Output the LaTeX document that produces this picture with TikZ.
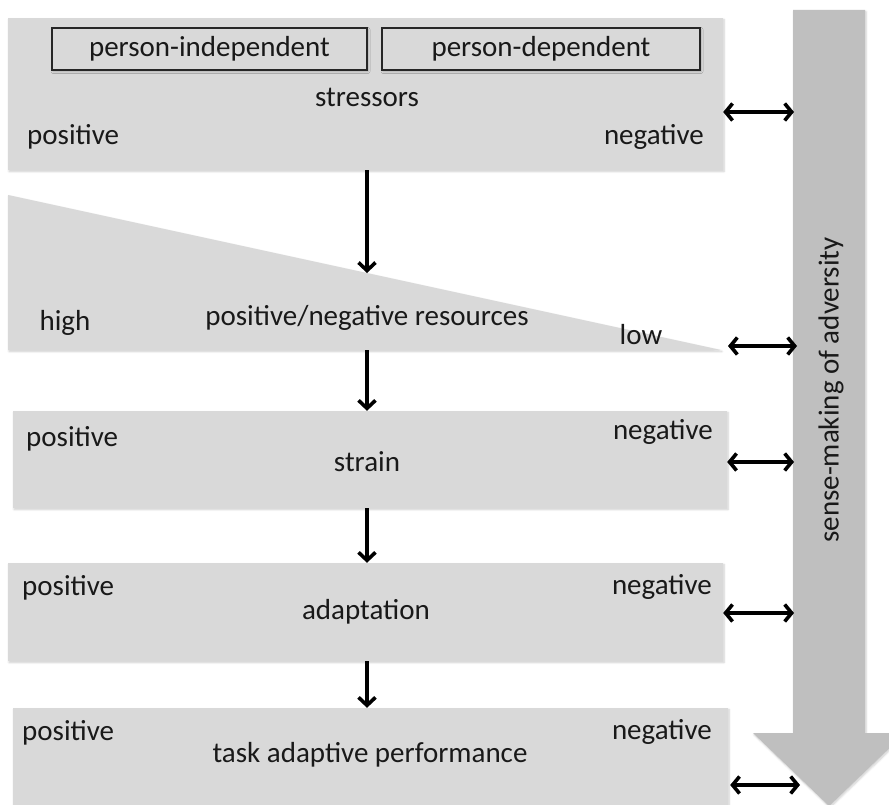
\documentclass[tikz,border=0pt]{standalone}
\usepackage{fontspec}
\setmainfont{Carlito}
\usetikzlibrary{arrows.meta,shadows.blur,calc}
\definecolor{boxgray}{HTML}{D9D9D9}
\definecolor{bargray}{HTML}{BFBFBF}
\tikzset{
  soft/.style={blur shadow={shadow xshift=1pt,shadow yshift=-1.5pt,shadow blur steps=6,shadow blur radius=2pt,shadow opacity=20}},
  panel/.style={rectangle,fill=boxgray,draw=none,inner sep=0pt,soft},
  tag/.style={rectangle,fill=boxgray,draw=black!85,line width=1.2pt,inner sep=0pt,soft},
  lbl/.style={inner sep=0pt,text=black!90,font=\fontsize{29}{34}\selectfont},
  flow/.style={line width=3.6pt,-{Straight Barb[length=8pt,width=17pt]}},
  link/.style={line width=3.6pt,{Straight Barb[length=7pt,width=17pt]}-{Straight Barb[length=7pt,width=17pt]}},
}
\begin{document}
\begin{tikzpicture}[x=1pt,y=-1pt]
\useasboundingbox (0,0) rectangle (889,805);

% sense-making arrow on the right
\fill[bargray,soft] (793,10) -- (865,10) -- (865,733) -- (905,733) -- (829,806) -- (753,733) -- (793,733) -- cycle;
\node[lbl,rotate=90] (sense) at (831,390) {sense-making of adversity};

% stressors
\node[panel,minimum width=715pt,minimum height=152pt] (stress) at (365.5,94) {};
\node[tag,minimum width=315pt,minimum height=42pt] (pind) at (209.5,49) {};
\node[lbl] at (pind) {person-independent};
\node[tag,minimum width=318pt,minimum height=42pt] (pdep) at (541,49) {};
\node[lbl] at (pdep) {person-dependent};
\node[lbl] (stresslbl) at (367,97) {stressors};
\node[lbl,anchor=west] (spos) at (27,137) {positive};
\node[lbl,anchor=east] (sneg) at (704,137) {negative};

% resources wedge
\fill[boxgray,soft] (8,195) -- (8,350) -- (721,350) -- cycle;
\coordinate (restop) at (367,273);
\coordinate (resbot) at (367,350);
\node[lbl] (rhigh) at (65,323) {high};
\node[lbl] (rlbl) at (367,318) {positive/negative resources};
\node[lbl] (rlow) at (641,335) {low};

% strain
\node[panel,minimum width=714pt,minimum height=97pt] (strain) at (370,459.5) {};
\node[lbl,anchor=west] (stpos) at (26,439) {positive};
\node[lbl] (stlbl) at (367,462) {strain};
\node[lbl,anchor=east] (stneg) at (713,432) {negative};

% adaptation
\node[panel,minimum width=715pt,minimum height=98pt] (adapt) at (365.5,612) {};
\node[lbl,anchor=west] (apos) at (22,588) {positive};
\node[lbl] (albl) at (366,612) {adaptation};
\node[lbl,anchor=east] (aneg) at (712,587) {negative};

% task adaptive performance
\node[panel,minimum width=715pt,minimum height=110pt] (perf) at (370.5,763) {};
\node[lbl,anchor=west] (ppos) at (22,733) {positive};
\node[lbl] (plbl) at (370,755) {task adaptive performance};
\node[lbl,anchor=east] (pneg) at (712,732) {negative};

% vertical flow
\draw[flow] (stress.south -| restop) -- (restop);
\draw[flow] (resbot) -- (strain.north -| resbot);
\draw[flow] (strain.south -| resbot) -- (adapt.north -| resbot);
\draw[flow] (adapt.south -| resbot) -- (perf.north -| resbot);

% links to the sense-making arrow
\coordinate (b1) at (794,112);
\coordinate (b2) at (797,346);
\coordinate (b3) at (794,462);
\coordinate (b4) at (794,613);
\coordinate (b5) at (800,785);
\coordinate (w1) at (728,346);
\draw[link] (stress.east |- b1) -- (b1);
\draw[link] (w1) -- (b2);
\draw[link] (strain.east |- b3) -- (b3);
\draw[link] (adapt.east |- b4) -- (b4);
\draw[link] ($(perf.east |- b5)+(2,0)$) -- (b5);
\end{tikzpicture}
\end{document}
